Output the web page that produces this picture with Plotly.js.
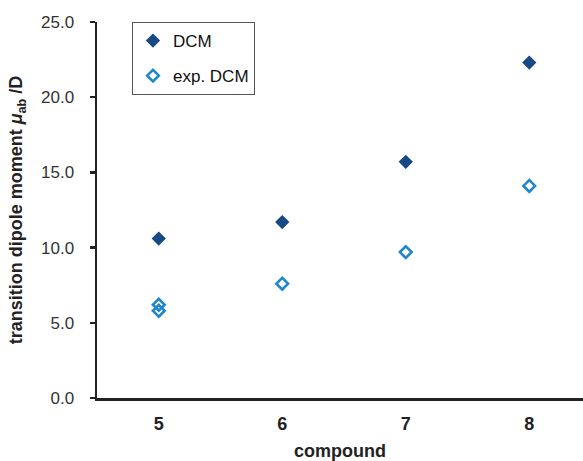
<!DOCTYPE html>
<html>
<head>
<meta charset="utf-8">
<script src="https://cdn.plot.ly/plotly-3.0.1.min.js"></script>
<style>html,body{margin:0;padding:0;background:#fff;}#chart{width:583px;height:461px;}</style>
</head>
<body>
<div id="chart"></div>
<script>
const dcmCompounds = [5, 6, 7, 8];
const dcmValues = [10.6, 11.7, 15.7, 22.3];
const expCompounds = [5, 5, 6, 7, 8];
const expValues = [6.2, 5.8, 7.6, 9.7, 14.1];
const xTickVals = [5, 6, 7, 8];
const xTickText = ['5', '6', '7', '8'];
const yTickVals = [0, 5, 10, 15, 20, 25];
const yTickText = ['0.0', '5.0', '10.0', '15.0', '20.0', '25.0'];

const traces = [
  {
    x: dcmCompounds, y: dcmValues, type: 'scatter', mode: 'markers', name: 'DCM', legendgroup: 'a',
    marker: {symbol: 'diamond', size: 11, color: '#174a85', line: {width: 0}}
  },
  {
    x: expCompounds, y: expValues, type: 'scatter', mode: 'markers', name: 'exp. DCM', legendgroup: 'b',
    marker: {symbol: 'diamond-open', size: 9, color: '#1f86cc', line: {width: 2.6, color: '#1f86cc'}}
  }
];

const layout = {
  width: 583, height: 461,
  margin: {l: 97, r: 0, t: 22, b: 63},
  paper_bgcolor: '#fff', plot_bgcolor: '#fff',
  font: {family: 'Liberation Sans, Arial, sans-serif', color: '#222'},
  showlegend: true,
  legend: {
    x: 0.072, y: 1, xanchor: 'left', yanchor: 'top',
    bordercolor: '#555', borderwidth: 1, bgcolor: '#fff',
    font: {size: 17, color: '#111'}, tracegroupgap: 10, itemwidth: 30
  },
  xaxis: {
    range: [4.5, 8.435], tickvals: xTickVals, ticktext: xTickText,
    showgrid: false, zeroline: false, showline: true, linecolor: '#222', linewidth: 2.5,
    ticks: '', ticklabelstandoff: 8,
    tickfont: {size: 18, color: '#222', family: 'Liberation Sans, Arial, sans-serif', weight: 'bold'},
    title: {text: '<b>compound</b>', font: {size: 18, color: '#222'}, standoff: 12}
  },
  yaxis: {
    range: [0, 25], tickvals: yTickVals, ticktext: yTickText,
    showgrid: false, zeroline: false, showline: true, linecolor: '#222', linewidth: 2.5,
    ticks: 'outside', ticklen: 5, tickwidth: 2.5, tickcolor: '#222', ticklabelstandoff: 12,
    tickfont: {size: 17, color: '#333'},
    title: {text: '<b>transition dipole moment <i>μ</i><sub>ab</sub> /D</b>', font: {size: 18, color: '#222'}, standoff: 14}
  }
};

Plotly.newPlot('chart', traces, layout, {displayModeBar: false, staticPlot: true});
</script>
</body>
</html>
